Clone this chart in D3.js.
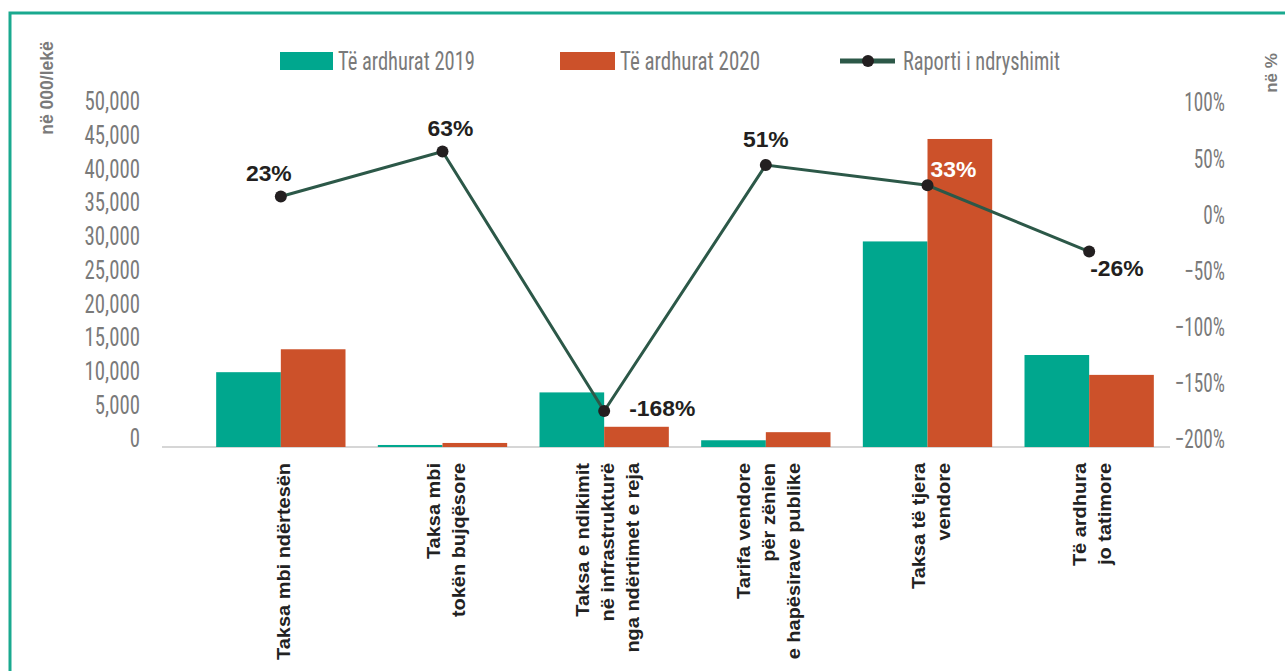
<!DOCTYPE html>
<html><head><meta charset="utf-8">
<script src="https://cdn.jsdelivr.net/npm/d3@7"></script>
<style>
html,body{margin:0;padding:0;background:#fff;overflow:hidden}
svg{display:block}
</style></head>
<body>
<svg id="chart" width="1285" height="671"></svg>
<script>
// ---- data ----
const categories = [
  "Taksa mbi ndërtesën",
  "Taksa mbi\ntokën bujqësore",
  "Taksa e ndikimit\nnë infrastrukturë\nnga ndërtimet e reja",
  "Tarifa vendore\npër zënien\ne hapësirave publike",
  "Taksa të tjera\nvendore",
  "Të ardhura\njo tatimore"
];
const revenue2019 = [11100, 300, 8100, 1000, 30500, 13650];
const revenue2020 = [14500, 600, 3000, 2200, 45700, 10700];
const changeRatio = [0.23, 0.63, -1.68, 0.51, 0.33, -0.26];
const changeLabels = ["23%", "63%", "-168%", "51%", "33%", "-26%"];
const leftTicks = [0, 5000, 10000, 15000, 20000, 25000, 30000, 35000, 40000, 45000, 50000];
const rightTicks = [-2, -1.5, -1, -0.5, 0, 0.5, 1];
const seriesNames = ["Të ardhurat 2019", "Të ardhurat 2020", "Raporti i ndryshimit"];

// ---- style ----
const C19 = "#00a78e", C20 = "#cc512a", CLINE = "#2c5848", CDOT = "#231f20", GRAY = "#7a7a7a";
const NARROW = "'Liberation Sans Narrow','Roboto Condensed','Arial Narrow',sans-serif";
const SANS = "'Liberation Sans',Arial,Helvetica,sans-serif";
// label placement per point (dx, dy, anchor, colour)
const labelPlacement = [
  {dx:-12, dy:-15, a:"middle", c:"#231f20"},
  {dx:8,   dy:-16, a:"middle", c:"#231f20"},
  {dx:25,  dy:5,   a:"start",  c:"#231f20"},
  {dx:0,   dy:-18, a:"middle", c:"#231f20"},
  {dx:3,   dy:-8,  a:"start",  c:"#ffffff"},
  {dx:1,   dy:24,  a:"start",  c:"#231f20"}
];

const svg = d3.select("#chart");

// frame
svg.append("rect").attr("x",10).attr("y",13).attr("width",1300).attr("height",700)
  .attr("fill","none").attr("stroke","#1aa98f").attr("stroke-width",3);

const x = d3.scaleBand().domain(categories).range([200,1170]).paddingInner(0.2).paddingOuter(0.1);
const xs = d3.scaleBand().domain([0,1]).range([0,x.bandwidth()]);
const yL = d3.scaleLinear().domain([0,50000]).range([447,110]);
const yR = d3.scaleLinear().domain([-2,1]).range([447,110]);

function condense(sel, f){
  sel.each(function(){
    const w = this.getComputedTextLength();
    d3.select(this).attr("textLength", w*f).attr("lengthAdjust","spacingAndGlyphs");
  });
}

// left axis ticks
const lt = svg.append("g").selectAll("text").data(leftTicks).join("text")
  .attr("x",140).attr("y",d=>yL(d)-9).attr("dy","0.36em")
  .attr("text-anchor","end").attr("font-family",NARROW).attr("font-size",26)
  .attr("fill",GRAY).text(d=>d3.format(",")(d));
condense(lt,0.8);

// right axis ticks
const rt = svg.append("g").selectAll("text").data(rightTicks).join("text")
  .attr("x",1225).attr("y",d=>yR(d)-8).attr("dy","0.36em")
  .attr("text-anchor","end").attr("font-family",NARROW).attr("font-size",26)
  .attr("fill",GRAY).text(d=>d3.format(".0%")(d));
condense(rt,0.74);

// axis titles
svg.append("text").attr("transform","translate(53,88) rotate(-90)")
  .attr("text-anchor","middle").attr("font-family",SANS).attr("font-weight","bold")
  .attr("font-size",17.5).attr("fill",GRAY).text("në 000/lekë");
svg.append("text").attr("transform","translate(1277,73) rotate(-90)")
  .attr("text-anchor","middle").attr("font-family",SANS).attr("font-weight","bold")
  .attr("font-size",17).attr("fill",GRAY).text("në %");

// baseline
svg.append("line").attr("x1",162).attr("x2",1170).attr("y1",yL(0)).attr("y2",yL(0))
  .attr("stroke","#c8c8c8").attr("stroke-width",1.5);

// bars
const groups = svg.append("g").selectAll("g").data(categories).join("g")
  .attr("transform",d=>`translate(${x(d)},0)`);
groups.append("rect").attr("x",xs(0)).attr("width",xs.bandwidth())
  .attr("y",(d,i)=>yL(revenue2019[i])).attr("height",(d,i)=>yL(0)-yL(revenue2019[i])).attr("fill",C19);
groups.append("rect").attr("x",xs(1)).attr("width",xs.bandwidth())
  .attr("y",(d,i)=>yL(revenue2020[i])).attr("height",(d,i)=>yL(0)-yL(revenue2020[i])).attr("fill",C20);

// line
const cx = d => x(d)+x.bandwidth()/2;
const line = d3.line().x((d,i)=>cx(categories[i])).y(d=>yR(d));
svg.append("path").datum(changeRatio).attr("d",line).attr("fill","none")
  .attr("stroke",CLINE).attr("stroke-width",3);
svg.append("g").selectAll("circle").data(changeRatio).join("circle")
  .attr("cx",(d,i)=>cx(categories[i])).attr("cy",d=>yR(d)).attr("r",6).attr("fill",CDOT);

// data labels
const dl = svg.append("g").selectAll("text").data(changeRatio).join("text")
  .attr("x",(d,i)=>cx(categories[i])+labelPlacement[i].dx)
  .attr("y",(d,i)=>yR(d)+labelPlacement[i].dy)
  .attr("text-anchor",(d,i)=>labelPlacement[i].a)
  .attr("fill",(d,i)=>labelPlacement[i].c)
  .attr("font-family",SANS).attr("font-weight","bold").attr("font-size",22)
  .text((d,i)=>changeLabels[i]);
condense(dl,1.04);

// category labels
const cl = svg.append("g").selectAll("g").data(categories).join("g")
  .attr("transform",d=>`translate(${cx(d)+3},463) rotate(-90)`);
cl.each(function(d){
  const lines = d.split("\n");
  const t = d3.select(this).selectAll("text").data(lines).join("text")
    .attr("x",0).attr("y",(l,i)=>(i-(lines.length-1)/2)*25)
    .attr("dominant-baseline","central").attr("text-anchor","end")
    .attr("font-family",SANS).attr("font-weight","bold").attr("font-size",19)
    .attr("fill","#222").text(l=>l);
  condense(t,1.05);
});

// legend
const lg = svg.append("g");
lg.append("rect").attr("x",280).attr("y",52).attr("width",53).attr("height",18).attr("fill",C19);
lg.append("rect").attr("x",560).attr("y",52).attr("width",55).attr("height",18).attr("fill",C20);
lg.append("line").attr("x1",840).attr("x2",895).attr("y1",61).attr("y2",61).attr("stroke",CLINE).attr("stroke-width",5);
lg.append("circle").attr("cx",868).attr("cy",61).attr("r",6).attr("fill",CDOT);
const legX = [338,620,903], legW = [137,140,157];
lg.selectAll("text.leg").data(seriesNames).join("text").attr("class","leg")
  .attr("x",(d,i)=>legX[i]).attr("y",61).attr("dy","0.36em")
  .attr("font-family",NARROW).attr("font-size",26).attr("fill",GRAY)
  .attr("textLength",(d,i)=>legW[i]).attr("lengthAdjust","spacingAndGlyphs")
  .text(d=>d);
</script>
</body></html>
